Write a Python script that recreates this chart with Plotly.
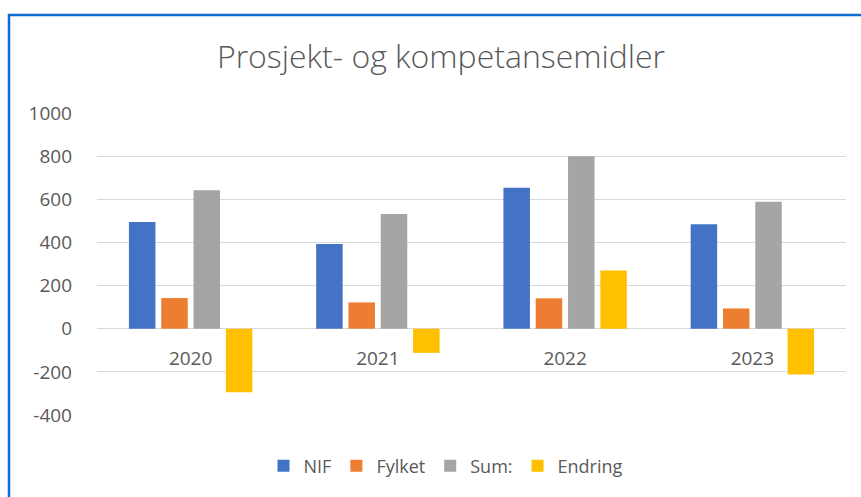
import plotly.graph_objects as go

years = ["2020", "2021", "2022", "2023"]
nif = [495, 393, 653, 484]
fylket = [142, 122, 141, 94]
sum_vals = [642, 532, 800, 588]
endring = [-294, -112, 270, -212]
series_names = ["NIF", "Fylket", "Sum:", "Endring"]
colors = ["#4472C4", "#ED7D31", "#A5A5A5", "#FFC000"]
y_ticks = [-400, -200, 0, 200, 400, 600, 800, 1000]
y_tick_labels = ["-400", "-200", "0", "200", "400", "600", "800", "1000"]

W, H = 861, 497
L, R, T, B = 97, 15, 113, 82
YMIN, YMAX = -400, 1000

fig = go.Figure()
for name, vals, col in zip(series_names, [nif, fylket, sum_vals, endring], colors):
    fig.add_trace(go.Bar(x=years, y=vals, name=name, marker=dict(color=col, line=dict(width=0))))

pw = W - L - R
ph = H - T - B
def px2x(p):
    return (p - L) / pw
def py2y(p):
    return (H - B - p) / ph

zero_pos = (0 - YMIN) / (YMAX - YMIN)
font = "Open Sans, Liberation Sans, sans-serif"
fig.update_layout(
    width=W, height=H,
    margin=dict(l=L, r=R, t=T, b=B),
    paper_bgcolor="white", plot_bgcolor="white",
    barmode="group", bargap=0.31, bargroupgap=0.18,
    title=dict(text="Prosjekt- og kompetansemidler", x=441 / W, xanchor="center",
               y=1 - 57 / H, yanchor="middle",
               font=dict(family=font, size=32, weight=300, color="#595959")),
    font=dict(family=font, color="#595959", size=18),
    legend=dict(orientation="h", x=px2x(446), xanchor="center", y=py2y(466), yanchor="middle",
                font=dict(size=18, color="#595959"), itemwidth=30, traceorder="normal"),
    xaxis=dict(anchor="free", position=zero_pos, showline=False, showgrid=False,
               ticks="", ticklabelstandoff=16, tickfont=dict(size=19, color="#595959")),
    yaxis=dict(range=[YMIN, YMAX], tickvals=y_ticks, ticktext=y_tick_labels,
               showgrid=True, gridcolor="#D9D9D9",
               gridwidth=1, zeroline=True, zerolinecolor="#D9D9D9", zerolinewidth=1,
               showline=False, ticks="", ticklabelstandoff=24,
               tickfont=dict(size=19, color="#595959")),
    shapes=[dict(type="rect", xref="paper", yref="paper",
                 x0=px2x(9), x1=px2x(875), y0=py2y(510), y1=py2y(15),
                 line=dict(color="#0A6FD0", width=2.5), fillcolor="rgba(0,0,0,0)", layer="above")],
)
fig.write_html("out.html", config={"displayModeBar": False},
               post_script="document.body.style.margin='0';")
